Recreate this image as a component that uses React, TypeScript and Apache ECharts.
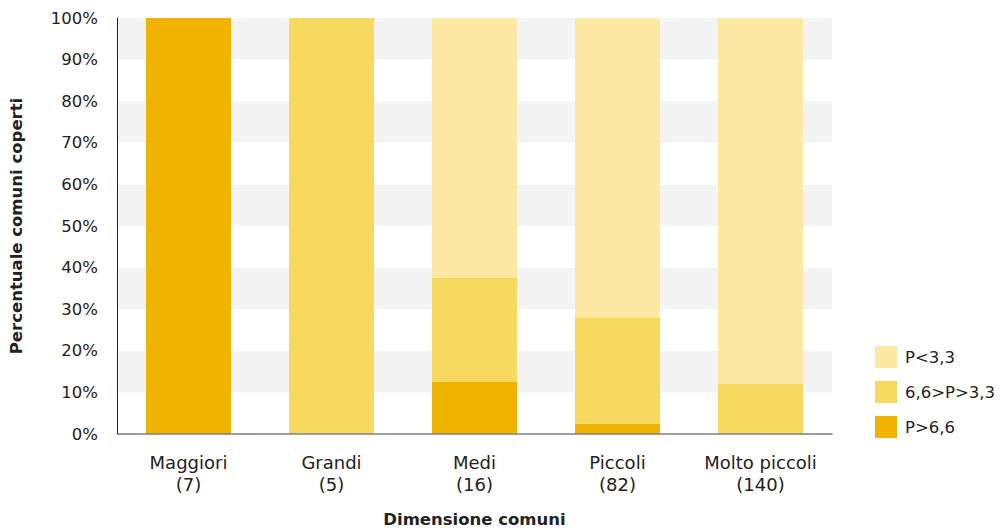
import React, { useEffect, useRef } from "react";
import * as echarts from "echarts";

const categories = ["Maggiori\n(7)", "Grandi\n(5)", "Medi\n(16)", "Piccoli\n(82)", "Molto piccoli\n(140)"];
const seriesNames = ["P>6,6", "6,6>P>3,3", "P<3,3"];
const highValues = [100, 0, 12.5, 2.44, 0];
const midValues = [0, 100, 25.0, 25.61, 12.14];
const lowValues = [0, 0, 62.5, 71.95, 87.86];
const colors = ["#F0B400", "#F8D960", "#FDE9A4"];
const yTicks = [0, 10, 20, 30, 40, 50, 60, 70, 80, 90, 100];

export default function App() {
  const ref = useRef<HTMLDivElement>(null);
  useEffect(() => {
    if (!ref.current) return;
    const chart = echarts.init(ref.current, null, { renderer: "svg" });
    const font = "DejaVu Sans";
    const values = [highValues, midValues, lowValues];
    chart.setOption({
      animation: false,
      textStyle: { fontFamily: font },
      grid: { left: 117, right: 171, top: 18, bottom: 96, containLabel: false, outerBoundsMode: "none" },
      legend: {
        orient: "vertical",
        left: 870,
        top: 341,
        itemWidth: 22,
        itemHeight: 22,
        itemGap: 13,
        icon: "rect",
        data: [seriesNames[2], seriesNames[1], seriesNames[0]],
        textStyle: { fontFamily: font, fontSize: 16.5, color: "#222", padding: [0, 0, 0, 3] },
      },
      xAxis: {
        type: "category",
        data: categories,
        name: "Dimensione comuni",
        nameLocation: "middle",
        nameGap: 77,
        nameTextStyle: { fontFamily: font, fontSize: 16.5, fontWeight: "bold", color: "#222" },
        axisLine: { lineStyle: { color: "#808080", width: 1.5 } },
        axisTick: { show: false },
        axisLabel: { interval: 0, fontFamily: font, fontSize: 18, color: "#222", margin: 17, lineHeight: 22 },
        z: 10,
      },
      yAxis: {
        type: "value",
        min: 0,
        max: 100,
        interval: 10,
        name: "Percentuale comuni coperti",
        nameLocation: "middle",
        nameGap: 92,
        nameRotate: 90,
        nameTextStyle: { fontFamily: font, fontSize: 16.5, fontWeight: "bold", color: "#222" },
        axisLine: { show: true, lineStyle: { color: "#222", width: 1 } },
        axisTick: { show: false },
        splitLine: { show: false },
        splitArea: { show: true, areaStyle: { color: ["#ffffff", "#f4f4f4"] } },
        axisLabel: {
          fontFamily: font,
          fontSize: 16.5,
          color: "#222",
          margin: 19,
          formatter: (v: number) => (yTicks.includes(v) ? v + "%" : ""),
        },
      },
      series: seriesNames.map((name, i) => ({
        name,
        type: "bar",
        stack: "total",
        barWidth: 85,
        data: values[i],
        itemStyle: { color: colors[i] },
      })),
    });
    return () => chart.dispose();
  }, []);
  return (
    <div
      ref={ref}
      style={{ position: "fixed", left: 0, top: 0, width: 1003, height: 530, background: "#fff" }}
    />
  );
}
